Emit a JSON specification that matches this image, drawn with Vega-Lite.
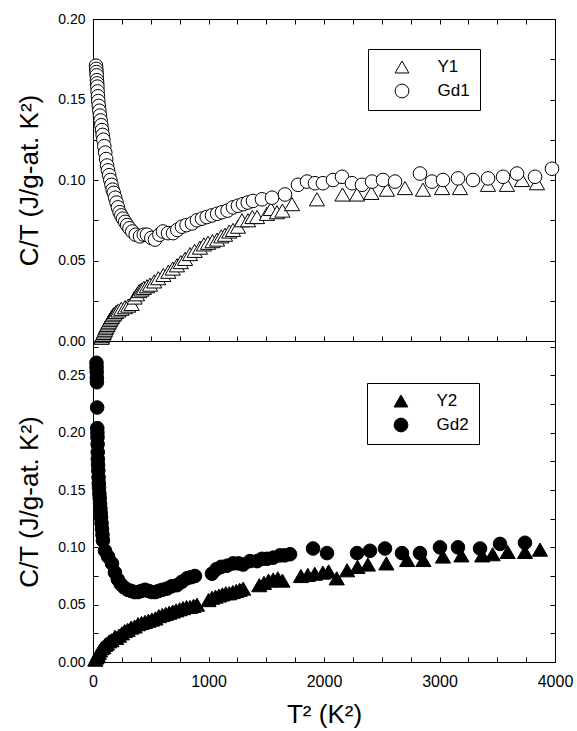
{
  "$schema": "https://vega.github.io/schema/vega-lite/v6.json",
  "background": "white",
  "padding": {"left": 16, "top": 11, "right": 2, "bottom": 5},
  "bounds": "flush",
  "spacing": 0,
  "config": {
    "view": {"stroke": "black", "strokeWidth": 1},
    "font": "Liberation Sans",
    "axis": {"domain": false, "grid": false, "tickColor": "black", "tickSize": -5, "tickWidth": 1, "labelColor": "black", "titleColor": "black", "labelFont": "Liberation Sans", "titleFont": "Liberation Sans", "titleFontWeight": "normal", "labelOverlap": false, "labelFlush": false},
    "legend": {"strokeColor": "black", "padding": 9.5, "labelFontSize": 17, "labelFont": "Liberation Sans", "labelColor": "black", "symbolSize": 190, "symbolStrokeWidth": 1, "rowPadding": 6, "labelOffset": 27, "symbolOffset": 16}
  },
  "resolve": {"scale": {"shape": "independent"}, "legend": {"shape": "independent"}},
  "datasets": {
    "top": [
      {"s":"Y1","x":75,"y":0.002},{"s":"Y1","x":80,"y":0.003},{"s":"Y1","x":86,"y":0.004},{"s":"Y1","x":92,"y":0.005},{"s":"Y1","x":98,"y":0.006},{"s":"Y1","x":104,"y":0.007},{"s":"Y1","x":110,"y":0.008},{"s":"Y1","x":117,"y":0.009},{"s":"Y1","x":124,"y":0.010},{"s":"Y1","x":131,"y":0.011},{"s":"Y1","x":138,"y":0.012},{"s":"Y1","x":146,"y":0.013},{"s":"Y1","x":154,"y":0.014},{"s":"Y1","x":163,"y":0.015},{"s":"Y1","x":172,"y":0.016},{"s":"Y1","x":185,"y":0.017},{"s":"Y1","x":200,"y":0.018},{"s":"Y1","x":220,"y":0.019},{"s":"Y1","x":245,"y":0.020},{"s":"Y1","x":277,"y":0.021},{"s":"Y1","x":305,"y":0.022},{"s":"Y1","x":335,"y":0.023},{"s":"Y1","x":360,"y":0.027},{"s":"Y1","x":381,"y":0.029},{"s":"Y1","x":400,"y":0.031},{"s":"Y1","x":420,"y":0.032},{"s":"Y1","x":440,"y":0.033},{"s":"Y1","x":467,"y":0.034},{"s":"Y1","x":494,"y":0.035},{"s":"Y1","x":530,"y":0.037},{"s":"Y1","x":565,"y":0.039},{"s":"Y1","x":609,"y":0.041},{"s":"Y1","x":652,"y":0.043},{"s":"Y1","x":690,"y":0.045},{"s":"Y1","x":727,"y":0.047},{"s":"Y1","x":760,"y":0.049},{"s":"Y1","x":797,"y":0.051},{"s":"Y1","x":840,"y":0.054},{"s":"Y1","x":880,"y":0.056},{"s":"Y1","x":926,"y":0.058},{"s":"Y1","x":960,"y":0.060},{"s":"Y1","x":996,"y":0.061},{"s":"Y1","x":1035,"y":0.062},{"s":"Y1","x":1074,"y":0.063},{"s":"Y1","x":1110,"y":0.065},{"s":"Y1","x":1143,"y":0.066},{"s":"Y1","x":1180,"y":0.068},{"s":"Y1","x":1212,"y":0.069},{"s":"Y1","x":1255,"y":0.071},{"s":"Y1","x":1290,"y":0.075},{"s":"Y1","x":1342,"y":0.075},{"s":"Y1","x":1380,"y":0.077},{"s":"Y1","x":1420,"y":0.077},{"s":"Y1","x":1506,"y":0.079},{"s":"Y1","x":1540,"y":0.082},{"s":"Y1","x":1593,"y":0.080},{"s":"Y1","x":1640,"y":0.081},{"s":"Y1","x":1723,"y":0.085},{"s":"Y1","x":1939,"y":0.088},{"s":"Y1","x":2160,"y":0.091},{"s":"Y1","x":2286,"y":0.091},{"s":"Y1","x":2410,"y":0.092},{"s":"Y1","x":2545,"y":0.094},{"s":"Y1","x":2701,"y":0.095},{"s":"Y1","x":2857,"y":0.094},{"s":"Y1","x":3022,"y":0.095},{"s":"Y1","x":3177,"y":0.095},{"s":"Y1","x":3420,"y":0.097},{"s":"Y1","x":3584,"y":0.097},{"s":"Y1","x":3714,"y":0.100},{"s":"Y1","x":3844,"y":0.098},
      {"s":"Gd1","x":26,"y":0.171},{"s":"Gd1","x":28,"y":0.169},{"s":"Gd1","x":30,"y":0.167},{"s":"Gd1","x":32,"y":0.165},{"s":"Gd1","x":34,"y":0.162},{"s":"Gd1","x":36,"y":0.160},{"s":"Gd1","x":38,"y":0.158},{"s":"Gd1","x":40,"y":0.155},{"s":"Gd1","x":43,"y":0.152},{"s":"Gd1","x":46,"y":0.149},{"s":"Gd1","x":50,"y":0.146},{"s":"Gd1","x":55,"y":0.143},{"s":"Gd1","x":60,"y":0.140},{"s":"Gd1","x":66,"y":0.137},{"s":"Gd1","x":72,"y":0.134},{"s":"Gd1","x":78,"y":0.131},{"s":"Gd1","x":84,"y":0.128},{"s":"Gd1","x":90,"y":0.125},{"s":"Gd1","x":98,"y":0.121},{"s":"Gd1","x":106,"y":0.117},{"s":"Gd1","x":114,"y":0.113},{"s":"Gd1","x":122,"y":0.109},{"s":"Gd1","x":130,"y":0.106},{"s":"Gd1","x":140,"y":0.103},{"s":"Gd1","x":150,"y":0.100},{"s":"Gd1","x":160,"y":0.097},{"s":"Gd1","x":170,"y":0.094},{"s":"Gd1","x":180,"y":0.092},{"s":"Gd1","x":192,"y":0.089},{"s":"Gd1","x":204,"y":0.086},{"s":"Gd1","x":216,"y":0.083},{"s":"Gd1","x":230,"y":0.080},{"s":"Gd1","x":245,"y":0.078},{"s":"Gd1","x":260,"y":0.076},{"s":"Gd1","x":278,"y":0.074},{"s":"Gd1","x":296,"y":0.072},{"s":"Gd1","x":316,"y":0.070},{"s":"Gd1","x":340,"y":0.068},{"s":"Gd1","x":370,"y":0.066},{"s":"Gd1","x":407,"y":0.065},{"s":"Gd1","x":440,"y":0.066},{"s":"Gd1","x":467,"y":0.066},{"s":"Gd1","x":505,"y":0.064},{"s":"Gd1","x":537,"y":0.063},{"s":"Gd1","x":575,"y":0.066},{"s":"Gd1","x":606,"y":0.068},{"s":"Gd1","x":650,"y":0.067},{"s":"Gd1","x":693,"y":0.067},{"s":"Gd1","x":730,"y":0.069},{"s":"Gd1","x":770,"y":0.071},{"s":"Gd1","x":810,"y":0.072},{"s":"Gd1","x":857,"y":0.073},{"s":"Gd1","x":900,"y":0.075},{"s":"Gd1","x":944,"y":0.076},{"s":"Gd1","x":985,"y":0.077},{"s":"Gd1","x":1030,"y":0.078},{"s":"Gd1","x":1075,"y":0.079},{"s":"Gd1","x":1117,"y":0.080},{"s":"Gd1","x":1165,"y":0.081},{"s":"Gd1","x":1212,"y":0.083},{"s":"Gd1","x":1255,"y":0.084},{"s":"Gd1","x":1299,"y":0.085},{"s":"Gd1","x":1340,"y":0.086},{"s":"Gd1","x":1385,"y":0.087},{"s":"Gd1","x":1463,"y":0.088},{"s":"Gd1","x":1550,"y":0.089},{"s":"Gd1","x":1662,"y":0.091},{"s":"Gd1","x":1775,"y":0.097},{"s":"Gd1","x":1853,"y":0.099},{"s":"Gd1","x":1922,"y":0.098},{"s":"Gd1","x":1991,"y":0.098},{"s":"Gd1","x":2078,"y":0.100},{"s":"Gd1","x":2156,"y":0.102},{"s":"Gd1","x":2242,"y":0.098},{"s":"Gd1","x":2329,"y":0.097},{"s":"Gd1","x":2416,"y":0.099},{"s":"Gd1","x":2511,"y":0.100},{"s":"Gd1","x":2615,"y":0.099},{"s":"Gd1","x":2831,"y":0.104},{"s":"Gd1","x":2935,"y":0.099},{"s":"Gd1","x":3030,"y":0.100},{"s":"Gd1","x":3160,"y":0.101},{"s":"Gd1","x":3290,"y":0.100},{"s":"Gd1","x":3420,"y":0.101},{"s":"Gd1","x":3550,"y":0.102},{"s":"Gd1","x":3671,"y":0.104},{"s":"Gd1","x":3827,"y":0.102},{"s":"Gd1","x":3974,"y":0.107}
    ],
    "bottom": [
      {"s":"Y2","x":20,"y":0.002},{"s":"Y2","x":30,"y":0.004},{"s":"Y2","x":40,"y":0.006},{"s":"Y2","x":50,"y":0.008},{"s":"Y2","x":60,"y":0.010},{"s":"Y2","x":75,"y":0.012},{"s":"Y2","x":90,"y":0.013},{"s":"Y2","x":105,"y":0.015},{"s":"Y2","x":120,"y":0.016},{"s":"Y2","x":140,"y":0.018},{"s":"Y2","x":160,"y":0.019},{"s":"Y2","x":190,"y":0.022},{"s":"Y2","x":200,"y":0.021},{"s":"Y2","x":225,"y":0.023},{"s":"Y2","x":250,"y":0.025},{"s":"Y2","x":275,"y":0.027},{"s":"Y2","x":300,"y":0.028},{"s":"Y2","x":330,"y":0.030},{"s":"Y2","x":360,"y":0.031},{"s":"Y2","x":390,"y":0.033},{"s":"Y2","x":420,"y":0.034},{"s":"Y2","x":450,"y":0.035},{"s":"Y2","x":480,"y":0.036},{"s":"Y2","x":510,"y":0.037},{"s":"Y2","x":540,"y":0.038},{"s":"Y2","x":570,"y":0.040},{"s":"Y2","x":600,"y":0.041},{"s":"Y2","x":630,"y":0.042},{"s":"Y2","x":660,"y":0.043},{"s":"Y2","x":690,"y":0.044},{"s":"Y2","x":720,"y":0.045},{"s":"Y2","x":750,"y":0.046},{"s":"Y2","x":780,"y":0.047},{"s":"Y2","x":810,"y":0.048},{"s":"Y2","x":840,"y":0.048},{"s":"Y2","x":870,"y":0.049},{"s":"Y2","x":900,"y":0.050},{"s":"Y2","x":1000,"y":0.054},{"s":"Y2","x":1030,"y":0.056},{"s":"Y2","x":1060,"y":0.057},{"s":"Y2","x":1090,"y":0.058},{"s":"Y2","x":1120,"y":0.059},{"s":"Y2","x":1150,"y":0.060},{"s":"Y2","x":1180,"y":0.060},{"s":"Y2","x":1210,"y":0.061},{"s":"Y2","x":1240,"y":0.062},{"s":"Y2","x":1270,"y":0.063},{"s":"Y2","x":1300,"y":0.064},{"s":"Y2","x":1440,"y":0.067},{"s":"Y2","x":1480,"y":0.069},{"s":"Y2","x":1520,"y":0.071},{"s":"Y2","x":1560,"y":0.072},{"s":"Y2","x":1600,"y":0.073},{"s":"Y2","x":1640,"y":0.071},{"s":"Y2","x":1800,"y":0.075},{"s":"Y2","x":1860,"y":0.076},{"s":"Y2","x":1920,"y":0.077},{"s":"Y2","x":1990,"y":0.078},{"s":"Y2","x":2040,"y":0.079},{"s":"Y2","x":2110,"y":0.073},{"s":"Y2","x":2200,"y":0.080},{"s":"Y2","x":2290,"y":0.083},{"s":"Y2","x":2380,"y":0.085},{"s":"Y2","x":2540,"y":0.086},{"s":"Y2","x":2720,"y":0.089},{"s":"Y2","x":2860,"y":0.089},{"s":"Y2","x":3030,"y":0.092},{"s":"Y2","x":3190,"y":0.093},{"s":"Y2","x":3370,"y":0.093},{"s":"Y2","x":3460,"y":0.094},{"s":"Y2","x":3590,"y":0.096},{"s":"Y2","x":3740,"y":0.096},{"s":"Y2","x":3870,"y":0.098},
      {"s":"Gd2","x":30,"y":0.261},{"s":"Gd2","x":31,"y":0.257},{"s":"Gd2","x":32,"y":0.253},{"s":"Gd2","x":33,"y":0.248},{"s":"Gd2","x":34,"y":0.244},{"s":"Gd2","x":36,"y":0.222},{"s":"Gd2","x":37,"y":0.204},{"s":"Gd2","x":38,"y":0.200},{"s":"Gd2","x":39,"y":0.196},{"s":"Gd2","x":40,"y":0.190},{"s":"Gd2","x":41,"y":0.183},{"s":"Gd2","x":42,"y":0.177},{"s":"Gd2","x":44,"y":0.172},{"s":"Gd2","x":46,"y":0.167},{"s":"Gd2","x":48,"y":0.161},{"s":"Gd2","x":50,"y":0.156},{"s":"Gd2","x":52,"y":0.152},{"s":"Gd2","x":55,"y":0.147},{"s":"Gd2","x":58,"y":0.143},{"s":"Gd2","x":61,"y":0.138},{"s":"Gd2","x":64,"y":0.134},{"s":"Gd2","x":67,"y":0.130},{"s":"Gd2","x":70,"y":0.126},{"s":"Gd2","x":74,"y":0.121},{"s":"Gd2","x":78,"y":0.116},{"s":"Gd2","x":82,"y":0.111},{"s":"Gd2","x":86,"y":0.106},{"s":"Gd2","x":104,"y":0.097},{"s":"Gd2","x":130,"y":0.092},{"s":"Gd2","x":164,"y":0.086},{"s":"Gd2","x":190,"y":0.078},{"s":"Gd2","x":215,"y":0.072},{"s":"Gd2","x":240,"y":0.068},{"s":"Gd2","x":270,"y":0.065},{"s":"Gd2","x":300,"y":0.063},{"s":"Gd2","x":330,"y":0.062},{"s":"Gd2","x":360,"y":0.061},{"s":"Gd2","x":390,"y":0.061},{"s":"Gd2","x":420,"y":0.062},{"s":"Gd2","x":450,"y":0.063},{"s":"Gd2","x":480,"y":0.062},{"s":"Gd2","x":510,"y":0.061},{"s":"Gd2","x":540,"y":0.061},{"s":"Gd2","x":570,"y":0.062},{"s":"Gd2","x":600,"y":0.063},{"s":"Gd2","x":640,"y":0.064},{"s":"Gd2","x":680,"y":0.066},{"s":"Gd2","x":727,"y":0.067},{"s":"Gd2","x":770,"y":0.070},{"s":"Gd2","x":814,"y":0.073},{"s":"Gd2","x":850,"y":0.074},{"s":"Gd2","x":883,"y":0.075},{"s":"Gd2","x":1030,"y":0.077},{"s":"Gd2","x":1070,"y":0.081},{"s":"Gd2","x":1110,"y":0.083},{"s":"Gd2","x":1160,"y":0.084},{"s":"Gd2","x":1212,"y":0.086},{"s":"Gd2","x":1260,"y":0.086},{"s":"Gd2","x":1300,"y":0.085},{"s":"Gd2","x":1359,"y":0.088},{"s":"Gd2","x":1420,"y":0.088},{"s":"Gd2","x":1463,"y":0.090},{"s":"Gd2","x":1506,"y":0.090},{"s":"Gd2","x":1560,"y":0.091},{"s":"Gd2","x":1619,"y":0.093},{"s":"Gd2","x":1660,"y":0.093},{"s":"Gd2","x":1706,"y":0.094},{"s":"Gd2","x":1905,"y":0.099},{"s":"Gd2","x":2026,"y":0.095},{"s":"Gd2","x":2286,"y":0.095},{"s":"Gd2","x":2398,"y":0.097},{"s":"Gd2","x":2528,"y":0.099},{"s":"Gd2","x":2675,"y":0.095},{"s":"Gd2","x":2831,"y":0.095},{"s":"Gd2","x":3004,"y":0.100},{"s":"Gd2","x":3160,"y":0.100},{"s":"Gd2","x":3351,"y":0.099},{"s":"Gd2","x":3524,"y":0.103},{"s":"Gd2","x":3740,"y":0.104}
    ]
  },
  "vconcat": [
    {
      "width": 462, "height": 322,
      "data": {"name": "top"},
      "resolve": {"axis": {"x": "independent", "y": "independent"}},
      "layer": [
        {
          "transform": [{"filter": "datum.s == 'Y1'"}],
          "mark": {"type": "point", "filled": true, "fill": "white", "stroke": "black", "strokeWidth": 1, "opacity": 1, "size": 230},
          "encoding": {
            "x": {"field": "x", "type": "quantitative", "scale": {"domain": [0, 4000], "nice": false},
                  "axis": {"orient": "bottom", "values": [0,250,500,750,1000,1250,1500,1750,2000,2250,2500,2750,3000,3250,3500,3750,4000], "labels": false, "title": null}},
            "y": {"field": "y", "type": "quantitative", "scale": {"domain": [0, 0.2], "nice": false},
                  "axis": {"orient": "left", "values": [0,0.025,0.05,0.075,0.1,0.125,0.15,0.175,0.2], "labelExpr": "abs(datum.value*20 - round(datum.value*20)) < 0.001 ? format(datum.value, '.2f') : ''", "labelFontSize": 14, "labelPadding": 13, "title": "C/T (J/g-at. K²)", "titleFontSize": 26, "titlePadding": 15}},
            "shape": {"field": "s", "type": "nominal", "scale": {"domain": ["Y1", "Gd1"], "range": ["triangle-up", "circle"]},
                      "legend": {"title": null, "orient": "none", "legendX": 275, "legendY": 30, "fillColor": "white",
                                 "encoding": {"symbols": {"stroke": {"value": "black"}, "fill": {"value": "white"}, "strokeWidth": {"value": 1}, "opacity": {"value": 1}}}}}
          }
        },
        {
          "transform": [{"filter": "datum.s == 'Gd1'"}],
          "mark": {"type": "point", "filled": true, "fill": "white", "stroke": "black", "strokeWidth": 1, "opacity": 1, "size": 185},
          "encoding": {
            "x": {"field": "x", "type": "quantitative", "axis": null},
            "y": {"field": "y", "type": "quantitative", "axis": null},
            "shape": {"field": "s", "type": "nominal"}
          }
        },
        {
          "mark": {"type": "point", "opacity": 0},
          "encoding": {
            "x": {"field": "x", "type": "quantitative",
                  "axis": {"orient": "top", "values": [0,250,500,750,1000,1250,1500,1750,2000,2250,2500,2750,3000,3250,3500,3750,4000], "labels": false, "title": null}},
            "y": {"field": "y", "type": "quantitative",
                  "axis": {"orient": "right", "values": [0,0.025,0.05,0.075,0.1,0.125,0.15,0.175,0.2], "labels": false, "title": null}}
          }
        }
      ]
    },
    {
      "width": 462, "height": 321,
      "data": {"name": "bottom"},
      "resolve": {"axis": {"x": "independent", "y": "independent"}},
      "layer": [
        {
          "transform": [{"filter": "datum.s == 'Y2'"}],
          "mark": {"type": "point", "filled": true, "fill": "black", "stroke": "black", "strokeWidth": 1, "opacity": 1, "size": 230},
          "encoding": {
            "x": {"field": "x", "type": "quantitative", "scale": {"domain": [0, 4000], "nice": false},
                  "axis": {"orient": "bottom", "values": [0,250,500,750,1000,1250,1500,1750,2000,2250,2500,2750,3000,3250,3500,3750,4000], "labelExpr": "datum.value % 1000 == 0 ? format(datum.value, 'd') : ''", "labelFontSize": 16, "labelPadding": 16, "title": "T² (K²)", "titleFontSize": 26, "titlePadding": 12}},
            "y": {"field": "y", "type": "quantitative", "scale": {"domain": [0, 0.28], "nice": false},
                  "axis": {"orient": "left", "values": [0,0.025,0.05,0.075,0.1,0.125,0.15,0.175,0.2,0.225,0.25,0.275], "labelExpr": "abs(datum.value*20 - round(datum.value*20)) < 0.001 ? format(datum.value, '.2f') : ''", "labelFontSize": 14, "labelPadding": 13, "title": "C/T (J/g-at. K²)", "titleFontSize": 26, "titlePadding": 15}},
            "shape": {"field": "s", "type": "nominal", "scale": {"domain": ["Y2", "Gd2"], "range": ["triangle-up", "circle"]},
                      "legend": {"title": null, "orient": "none", "legendX": 274, "legendY": 42, "fillColor": "white",
                                 "encoding": {"symbols": {"stroke": {"value": "black"}, "fill": {"value": "black"}, "strokeWidth": {"value": 1}, "opacity": {"value": 1}}}}}
          }
        },
        {
          "transform": [{"filter": "datum.s == 'Gd2'"}],
          "mark": {"type": "point", "filled": true, "fill": "black", "stroke": "black", "strokeWidth": 1, "opacity": 1, "size": 185},
          "encoding": {
            "x": {"field": "x", "type": "quantitative", "axis": null},
            "y": {"field": "y", "type": "quantitative", "axis": null},
            "shape": {"field": "s", "type": "nominal"}
          }
        },
        {
          "mark": {"type": "point", "opacity": 0},
          "encoding": {
            "x": {"field": "x", "type": "quantitative", "axis": null},
            "y": {"field": "y", "type": "quantitative",
                  "axis": {"orient": "right", "values": [0,0.025,0.05,0.075,0.1,0.125,0.15,0.175,0.2,0.225,0.25,0.275], "labels": false, "title": null}}
          }
        }
      ]
    }
  ]
}
